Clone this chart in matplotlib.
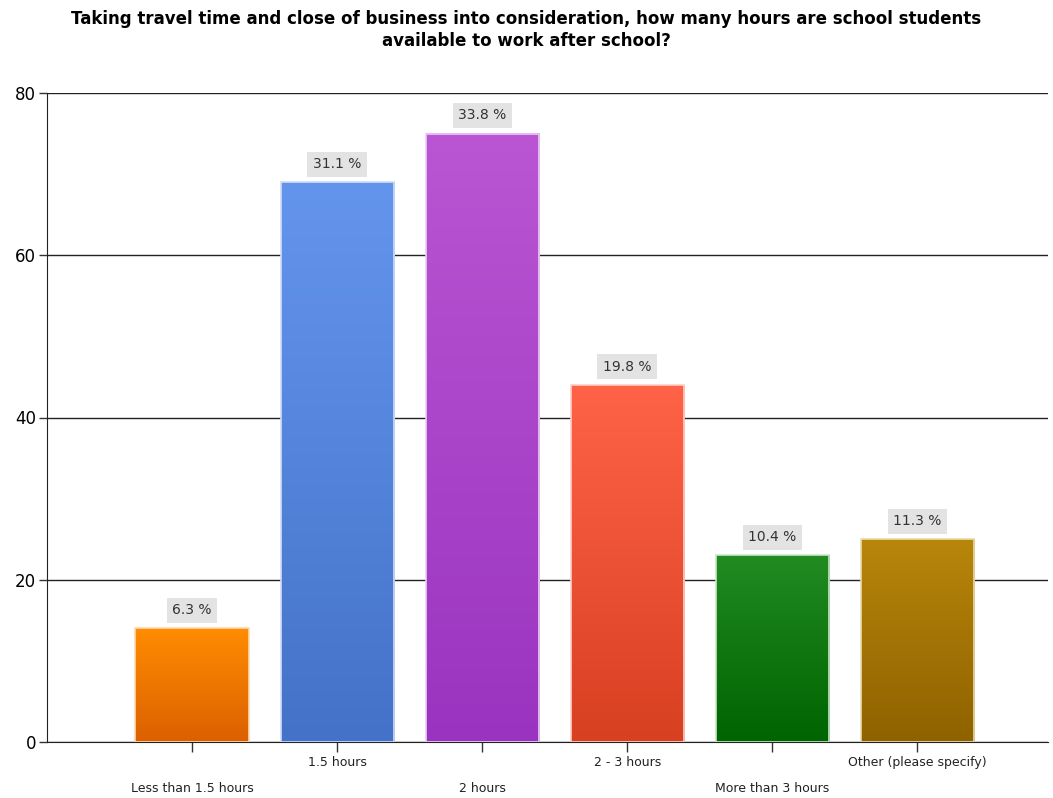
import numpy as np
import matplotlib
matplotlib.use("Agg")
import matplotlib.pyplot as plt
from matplotlib.colors import LinearSegmentedColormap
from matplotlib.transforms import ScaledTranslation

categories = ["Less than 1.5 hours", "1.5 hours", "2 hours", "2 - 3 hours",
              "More than 3 hours", "Other (please specify)"]
counts = [14, 69, 75, 44, 23, 25]
percents = ["6.3 %", "31.1 %", "33.8 %", "19.8 %", "10.4 %", "11.3 %"]
top_colors = ["#FF8C00", "#6495ED", "#BA55D3", "#FF6347", "#228B22", "#B8860B"]
bottom_colors = ["#DC6000", "#4472C8", "#9A34C0", "#D84022", "#006400", "#8E6200"]
edge_colors = ["#FFD9B0", "#D0DDF8", "#EBCFF3", "#FFD0C8", "#C8E6C8", "#EADBB0"]

title = ("Taking travel time and close of business into consideration, how many hours are school students\n"
         "available to work after school?")

fig = plt.figure(figsize=(10.53, 7.98), dpi=100)
ax = fig.add_axes([47 / 1053, 56 / 798, 1001 / 1053, 649 / 798])

x = np.arange(len(categories))
width = 0.78
bars = ax.bar(x, counts, width=width, color="none", zorder=3)

for i, b in enumerate(bars):
    cmap = LinearSegmentedColormap.from_list("g%d" % i, [bottom_colors[i], top_colors[i]])
    grad = np.linspace(0, 1, 256).reshape(-1, 1)
    x0, w, h = b.get_x(), b.get_width(), b.get_height()
    ax.imshow(grad, cmap=cmap, origin="lower", aspect="auto",
              extent=[x0, x0 + w, 0, h], zorder=2.5)
    b.set_edgecolor(edge_colors[i])
    b.set_linewidth(1.2)
    ax.annotate(percents[i], (x[i], h), xytext=(0, 8), textcoords="offset points",
                ha="center", va="bottom", fontsize=10, color="#333333",
                bbox=dict(boxstyle="square,pad=0.4", fc="#E3E3E3", ec="none"),
                zorder=4)

ax.set_xlim(-1.0, 5.9)
ax.set_ylim(0, 80)
ax.set_yticks([0, 20, 40, 60, 80])
ax.yaxis.grid(True, color="#222222", linewidth=1.0, zorder=1)
ax.set_axisbelow(True)

ax.set_xticks(x)
ax.set_xticklabels(categories, fontsize=9, color="#222222")
ax.tick_params(axis="x", length=7, width=1, color="#333333", pad=3)
ax.tick_params(axis="y", length=6, width=1, color="#333333", labelsize=12, pad=2)
# stagger the labels in two rows
shift = ScaledTranslation(0, -26 / 100, fig.dpi_scale_trans)
for i, lab in enumerate(ax.get_xticklabels()):
    if i % 2 == 0:
        lab.set_transform(lab.get_transform() + shift)

for s in ["top", "right"]:
    ax.spines[s].set_visible(False)
ax.spines["left"].set_color("#222222")
ax.spines["bottom"].set_color("#222222")

fig.suptitle(title, fontsize=12, fontweight="bold", y=0.988, linespacing=1.3)

fig.savefig("out.png", dpi=100)
